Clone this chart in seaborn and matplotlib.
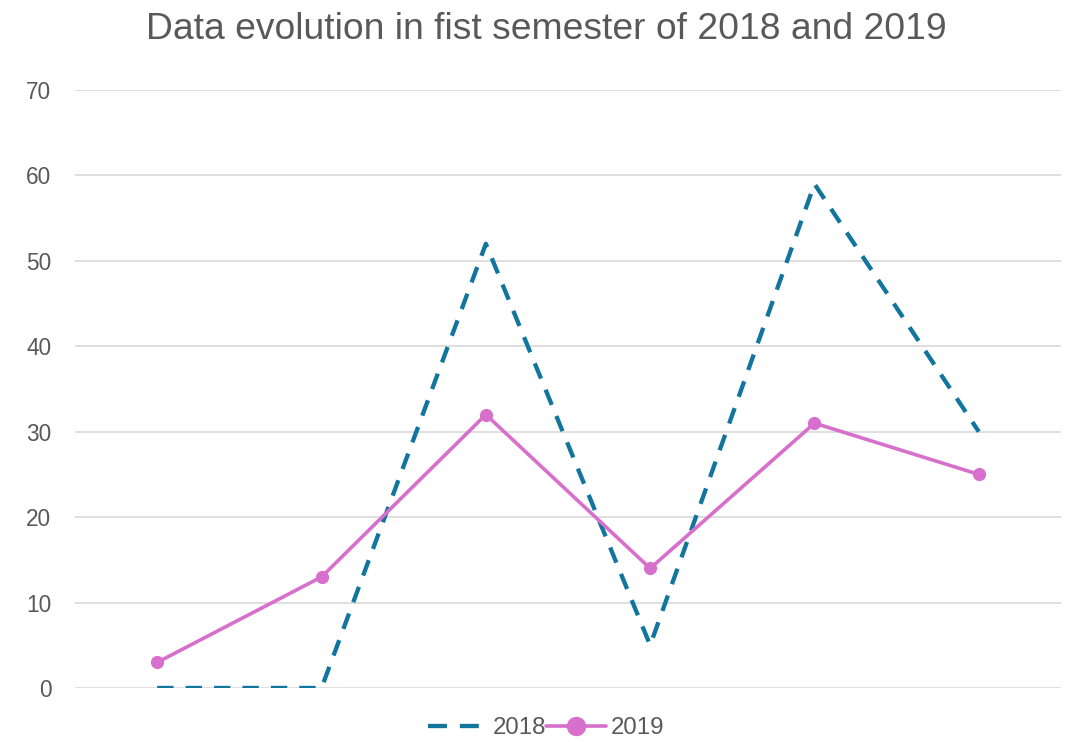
import pandas as pd
import matplotlib
matplotlib.use("Agg")
import matplotlib.pyplot as plt
import seaborn as sns
from matplotlib.lines import Line2D

# Données
months = [0, 1, 2, 3, 4, 5]
values_2018 = [0, 0, 52, 5, 59, 30]
values_2019 = [3, 13, 32, 14, 31, 25]
y_ticks = [0, 10, 20, 30, 40, 50, 60, 70]

sns.set_style("white")
plt.rcParams['font.family'] = ['Liberation Sans', 'DejaVu Sans']

color_2018 = '#11759E'
color_2019 = '#D76FCC'
text_color = '#595959'
dash_2018 = (0, (3.8, 2.8))

fig = plt.figure(figsize=(10.69, 7.42), dpi=100)
ax = fig.add_axes([0.0702, 0.0728, 0.9223, 0.8059])

df = pd.DataFrame({'month': months, '2018': values_2018, '2019': values_2019})

sns.lineplot(data=df, x='month', y='2018', ax=ax, color=color_2018,
             linewidth=3.1, linestyle=dash_2018, zorder=3)
sns.lineplot(data=df, x='month', y='2019', ax=ax, color=color_2019,
             linewidth=2.6, marker='o', markersize=9.5, markeredgewidth=0, zorder=4)

ax.set_xlim(-0.5, 5.5)
ax.set_ylim(0, 70)
ax.set_yticks(y_ticks)
ax.set_xticks([])
ax.set_xlabel('')
ax.set_ylabel('')
ax.yaxis.grid(True, color='#D9D9D9', linewidth=1.2)
ax.set_axisbelow(True)
for s in ax.spines.values():
    s.set_visible(False)
ax.tick_params(axis='y', length=0, pad=17, labelsize=16.3, labelcolor=text_color)

fig.suptitle('Data evolution in fist semester of 2018 and 2019', x=0.511, y=0.984, va='top',
             fontsize=26.8, color=text_color)

handles = [
    Line2D([], [], color=color_2018, linewidth=3.1, linestyle=(0, (4.4, 3.0))),
    Line2D([], [], color=color_2019, linewidth=2.6, marker='o', markersize=14, markeredgewidth=0),
]
fig.legend(handles, ['2018', '2019'], loc='lower center', bbox_to_anchor=(0.511, -0.025),
           ncol=2, frameon=False, fontsize=17.3, labelcolor=text_color,
           handlelength=2.5, handletextpad=0.2, columnspacing=0.0)

plt.savefig('out.png', dpi=100)
plt.close()
